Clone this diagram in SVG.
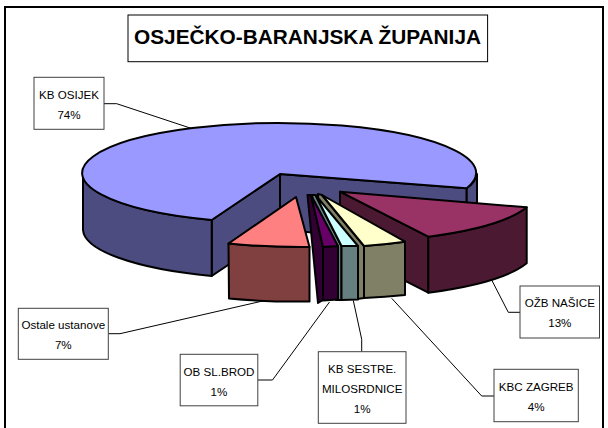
<svg xmlns="http://www.w3.org/2000/svg" width="608" height="428" viewBox="0 0 608 428">
<style>
.pie{stroke:#000;stroke-width:2;stroke-linejoin:round}
.lbl{fill:#fff;stroke:#404040;stroke-width:1}
.t{font-family:"Liberation Sans",Arial,sans-serif;font-size:11.6px;fill:#000;text-anchor:middle}
.lead{fill:none;stroke:#000;stroke-width:1}
</style>
<rect x="0" y="0" width="608" height="428" fill="#fff"/>
<rect x="5" y="7" width="598" height="440" fill="#fff" stroke="#000" stroke-width="2"/>
<g id="title">
<rect x="128" y="15" width="359.6" height="46.7" fill="#fff" stroke="#000" stroke-width="1"/>
<text x="307.5" y="44" font-family="'Liberation Sans',Arial,sans-serif" font-size="20" font-weight="bold" text-anchor="middle" textLength="347" lengthAdjust="spacingAndGlyphs">OSJEČKO-BARANJSKA ŽUPANIJA</text>
</g>
<g id="slice-kb-osijek">
<path class="pie" fill="#4C4C80" d="M280,174 L466.7,188.3 L466.7,244.3 L280,230 Z"/>
<path class="pie" fill="#4C4C80" d="M477,174 A197,50 0 0 1 466.7,188.3 L466.7,244.3 A197,50 0 0 0 477,230 Z"/>
<path class="pie" fill="#4C4C80" d="M280,174 L211.7,220 L211.7,276 L280,230 Z"/>
<path class="pie" fill="#4C4C80" d="M83,174 A197,50 0 0 0 211.7,220 L211.7,276 A197,50 0 0 1 83,230 Z"/>
<path class="pie" fill="#9999FF" d="M280,174 L466.7,188.3 A197,50 0 1 0 211.7,220 Z"/>
</g>
<g id="slice-ozb-nasice">
<path class="pie" fill="#4C1933" d="M340,191.7 L428.3,236.7 L428.3,292.7 L340,247.7 Z"/>
<path class="pie" fill="#4C1933" d="M428.3,236.7 A197,50 0 0 0 526.7,207.3 L526.7,263.3 A197,50 0 0 1 428.3,292.7 Z"/>
<path class="pie" fill="#993366" d="M340,191.7 L526.7,207.3 A197,50 0 0 1 428.3,236.7 Z"/>
</g>
<g id="slice-kbc-zagreb">
<path class="pie" fill="#808066" d="M318,194 L322,195 L364,246 L364,298 L357,299 L320,245 Z"/>
<path class="pie" fill="#808066" d="M364,246 A197,50 0 0 0 405,241.7 L405,295 A197,50 0 0 1 364,298 Z"/>
<path class="pie" fill="#FFFFCC" d="M322,195 L405,241.7 A197,50 0 0 1 364,246 Z"/>
</g>
<g id="slice-kb-sestre">
<path class="pie" fill="#668080" d="M312,195 L315.5,195 L341.5,246 L341.5,300 L336,300 L318,240 Z"/>
<path class="pie" fill="#668080" d="M341.5,246 A197,50 0 0 0 358,246 L358,299.5 A197,50 0 0 1 341.5,300 Z"/>
<path class="pie" fill="#CCFFFF" d="M315.5,195 L358,246 A197,50 0 0 1 341.5,246 Z"/>
</g>
<g id="slice-ob-sl-brod">
<path class="pie" fill="#330033" d="M307.5,195 L311,195 L323,247 L323,300 L318,303 Z"/>
<path class="pie" fill="#330033" d="M323,247 A197,50 0 0 0 338,246 L338,299.5 A197,50 0 0 1 323,300.5 Z"/>
<path class="pie" fill="#660066" d="M311,195 L338,246 A197,50 0 0 1 323,247 Z"/>
</g>
<g id="slice-ostale">
<path class="pie" fill="#804040" d="M228.5,243.5 A197,50 0 0 0 309.5,247 L309.5,301.5 A197,50 0 0 1 229,298.5 Z"/>
<path class="pie" fill="#FF8080" d="M296,197 L309.5,247 A197,50 0 0 1 228.5,243.5 Z"/>
</g>
<g id="connectors">
<polyline class="lead" points="104,103.7 116.7,103.7 191.7,128.5"/>
<polyline class="lead" points="108.3,333.7 120,333.7 263.6,300.8"/>
<polyline class="lead" points="258,380 272.5,380 329.5,302"/>
<polyline class="lead" points="361.7,351.7 361.7,339.3 353.3,300.5"/>
<polyline class="lead" points="494,396 481.7,396 391.7,298.3"/>
<polyline class="lead" points="520,312.3 508.3,312.3 491.7,280"/>
</g>
<g id="label-kb-osijek">
<rect class="lbl" x="34" y="77.3" width="70" height="52"/>
<text class="t" x="69" y="99.3">KB OSIJEK</text>
<text class="t" x="69" y="119.3">74%</text>
</g>
<g id="label-ostale">
<rect class="lbl" x="18.3" y="308.3" width="90" height="51"/>
<text class="t" x="63.3" y="328.8">Ostale ustanove</text>
<text class="t" x="63.3" y="348.8">7%</text>
</g>
<g id="label-ob-sl-brod">
<rect class="lbl" x="180.2" y="354.3" width="77.6" height="51.5"/>
<text class="t" x="219" y="375.6">OB SL.BROD</text>
<text class="t" x="219" y="395.6">1%</text>
</g>
<g id="label-kb-sestre">
<rect class="lbl" x="318.3" y="351.7" width="87.7" height="71.6"/>
<text class="t" x="362.2" y="373.3">KB SESTRE.</text>
<text class="t" x="362.2" y="393">MILOSRDNICE</text>
<text class="t" x="362.2" y="412.7">1%</text>
</g>
<g id="label-kbc-zagreb">
<rect class="lbl" x="494" y="369.3" width="84.3" height="52.4"/>
<text class="t" x="536.2" y="391.2">KBC ZAGREB</text>
<text class="t" x="536.2" y="410.6">4%</text>
</g>
<g id="label-ozb-nasice">
<rect class="lbl" x="520" y="286" width="79.5" height="52"/>
<text class="t" x="559.8" y="307.3">OŽB NAŠICE</text>
<text class="t" x="559.8" y="327">13%</text>
</g>
</svg>
